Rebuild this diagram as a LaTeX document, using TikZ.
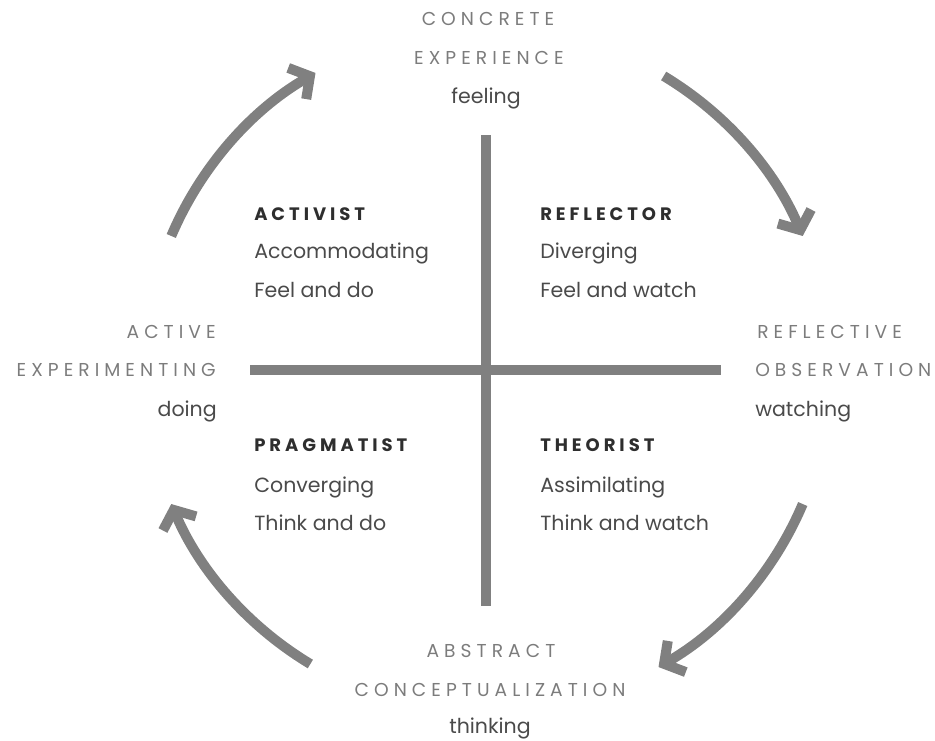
\documentclass[tikz,border=0pt]{standalone}
\usepackage{fontspec}
\setmainfont{Poppins}
\newfontfamily\stagefont[LetterSpace=27]{Poppins}
\newfontfamily\typefont[LetterSpace=22]{Poppins}
\usetikzlibrary{arrows.meta}
\definecolor{cyclegray}{HTML}{808080}
\definecolor{stagegray}{HTML}{7C7C7C}
\definecolor{typegray}{HTML}{2E2E2E}
\definecolor{textgray}{HTML}{4A4A4A}
\begin{document}
\begin{tikzpicture}[x=0.75pt,y=-0.75pt,
    cyclearrow/.style={line width=7.5pt,cyclegray,-{Straight Barb[length=11pt,width=27pt]}},
    axis/.style={line width=7.5pt,cyclegray},
    stage/.style={font=\fontsize{14}{16}\stagefont,text=stagegray,inner sep=0pt},
    mode/.style={font=\fontsize{15.4}{18}\selectfont,text=textgray,inner sep=0pt},
    learner/.style={font=\fontsize{13.5}{16}\typefont\bfseries,text=typegray,inner sep=0pt,anchor=base west},
    trait/.style={font=\fontsize{15.4}{18}\selectfont,text=textgray,inner sep=0pt,anchor=base west}]
  \useasboundingbox (0,0) rectangle (935,740);

  % Cross
  \coordinate (c) at (487,370);
  \draw[axis] (486,135) -- (486,606);
  \draw[axis] (250,370) -- (721,370);

  % Cycle arrows
  \draw[cyclearrow] (c) ++(-157:343) arc[start angle=-157,end angle=-120,radius=343];
  \draw[cyclearrow] (c) ++(-59:343) arc[start angle=-59,end angle=-23,radius=343];
  \draw[cyclearrow] (c) ++(23:343) arc[start angle=23,end angle=60,radius=343];
  \draw[cyclearrow] (c) ++(121:343) arc[start angle=121,end angle=157,radius=343];

  % Stages
  \node[stage,anchor=base] (ce1) at (488,25) {CONCRETE};
  \node[stage,anchor=base] (ce2) at (489,64) {EXPERIENCE};
  \node[mode,anchor=base] (ce3) at (486,103) {feeling};

  \node[stage,anchor=base west] (ro1) at (757,338) {REFLECTIVE};
  \node[stage,anchor=base west] (ro2) at (755,376) {OBSERVATION};
  \node[mode,anchor=base west] (ro3) at (755,416) {watching};

  \node[stage,anchor=base] (ac1) at (491,657) {ABSTRACT};
  \node[stage,anchor=base] (ac2) at (490,696) {CONCEPTUALIZATION};
  \node[mode,anchor=base] (ac3) at (490,733) {thinking};

  \node[stage,anchor=base east] (ae1) at (216,338) {ACTIVE};
  \node[stage,anchor=base east] (ae2) at (216,376) {EXPERIMENTING};
  \node[mode,anchor=base east] (ae3) at (217,416) {doing};

  % Learning styles
  \node[learner] (act) at (254,220) {ACTIVIST};
  \node[trait] (act1) at (254,258) {Accommodating};
  \node[trait] (act2) at (254,297) {Feel and do};

  \node[learner] (ref) at (540,220) {REFLECTOR};
  \node[trait] (ref1) at (540,258) {Diverging};
  \node[trait] (ref2) at (540,297) {Feel and watch};

  \node[learner] (pra) at (254,451) {PRAGMATIST};
  \node[trait] (pra1) at (254,492) {Converging};
  \node[trait] (pra2) at (254,530) {Think and do};

  \node[learner] (the) at (540,451) {THEORIST};
  \node[trait] (the1) at (540,492) {Assimilating};
  \node[trait] (the2) at (540,530) {Think and watch};
\end{tikzpicture}
\end{document}
